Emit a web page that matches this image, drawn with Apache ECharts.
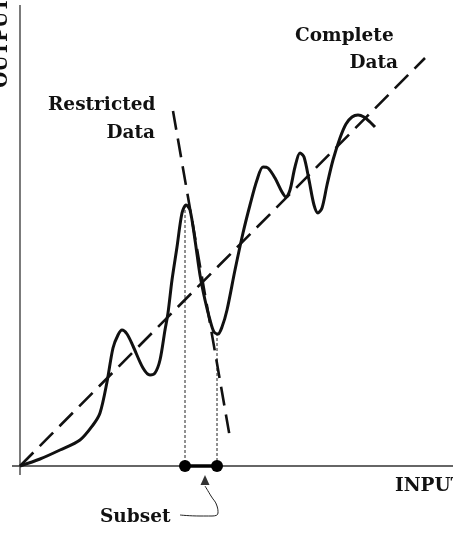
<!DOCTYPE html>
<html><head><meta charset="utf-8">
<script src="https://cdn.jsdelivr.net/npm/echarts@6/dist/echarts.min.js"></script>
<style>html,body{margin:0;padding:0;background:#fff}#c{width:453px;height:547px}</style>
</head><body><div id="c"></div>
<script>
// Curve data (input, output) in chart units; origin at the axes' crossing
const curveInput  = [0,20,40,60,73,80,87,93,98,102,107,113,123,130,135,140,145,148,152,157,162,166,170,175,180,185,190,194,198,202,207,215,223,230,237,243,248,255,262,266,270,275,280,284,289,294,298,302,307,313,320,326,332,338,344,350,355];
const curveOutput = [0,7,16,26,41,53,84,118,131,136,132,120,98,91,93,106,136,153,186,219,253,261,256,226,191,166,146,134,132,139,156,196,233,261,286,299,298,288,274,269,276,299,313,309,286,261,253,258,281,306,328,342,349,351,349,344,339];
// Complete-data trend line
const completeInput  = [0, 405];
const completeOutput = [0, 408];
// Restricted-data trend line
const restrictedInput  = [153, 210];
const restrictedOutput = [355, 28];
// Subset endpoints (input values)
const subsetInput = [165, 197];
const subsetPeakOutput = [261, 133];
// Axis extents
const xAxisLine = [[-8, 0], [433, 0]];
const yAxisLine = [[0, -9], [0, 461]];
// Annotation pointer for "Subset"
const pointerInput  = [185, 191, 197, 198, 192, 180, 160];
const pointerOutput = [-20, -30, -40, -47, -50, -50, -49];

const zip = (a, b) => a.map((v, i) => [v, b[i]]);
const chart = echarts.init(document.getElementById('c'), null, {renderer: 'canvas'});
const font = "'DejaVu Serif', serif";
const txt = (text, x, y, align) => ({type: 'text', x, y, style: {text, font: 'bold 18.5px ' + font, fill: '#111', textAlign: align || 'left', textVerticalAlign: 'middle'}});

chart.setOption({
  animation: false,
  grid: {left: 0, right: 0, top: 0, bottom: 0},
  xAxis: {type: 'value', min: -20, max: 433, show: false},
  yAxis: {type: 'value', min: -81, max: 466, show: false},
  series: [
    {type: 'line', data: xAxisLine, symbol: 'none', lineStyle: {color: '#333', width: 1.3}},
    {type: 'line', data: yAxisLine, symbol: 'none', lineStyle: {color: '#333', width: 1.3}},
    {type: 'line', data: [[subsetInput[0], subsetPeakOutput[0]], [subsetInput[0], 0]], symbol: 'none', lineStyle: {color: '#222', width: 1, type: [3, 2]}},
    {type: 'line', data: [[subsetInput[1], subsetPeakOutput[1]], [subsetInput[1], 0]], symbol: 'none', lineStyle: {color: '#222', width: 1, type: [3, 2]}},
    {type: 'line', data: zip(completeInput, completeOutput), symbol: 'none', lineStyle: {color: '#111', width: 2.6, type: [19, 9]}},
    {type: 'line', data: zip(restrictedInput, restrictedOutput), symbol: 'none', lineStyle: {color: '#111', width: 2.6, type: [19, 9]}},
    {type: 'line', data: zip(curveInput, curveOutput), symbol: 'none', smooth: 0.3, lineStyle: {color: '#111', width: 3}},
    {type: 'line', data: subsetInput.map(v => [v, 0]), symbol: 'circle', symbolSize: 12, itemStyle: {color: '#000'}, lineStyle: {color: '#000', width: 3.5}},
    {type: 'line', data: zip(pointerInput, pointerOutput), symbol: 'none', smooth: 0.5, lineStyle: {color: '#222', width: 1}},
    {type: 'scatter', data: [[185, -14]], symbol: 'triangle', symbolSize: [9, 10], itemStyle: {color: '#000'}}
  ],
  graphic: [
    txt('Restricted', 48, 105),
    txt('Data', 155, 133, 'right'),
    txt('Complete', 295, 36),
    txt('Data', 398, 63, 'right'),
    txt('INPUT', 395, 486),
    txt('Subset', 100, 517),
    {type: 'text', x: 12, y: -2, rotation: Math.PI / 2, style: {text: 'OUTPUT', font: 'bold 18.5px ' + font, fill: '#111', textAlign: 'right', textVerticalAlign: 'bottom'}}
  ]
});
</script></body></html>
